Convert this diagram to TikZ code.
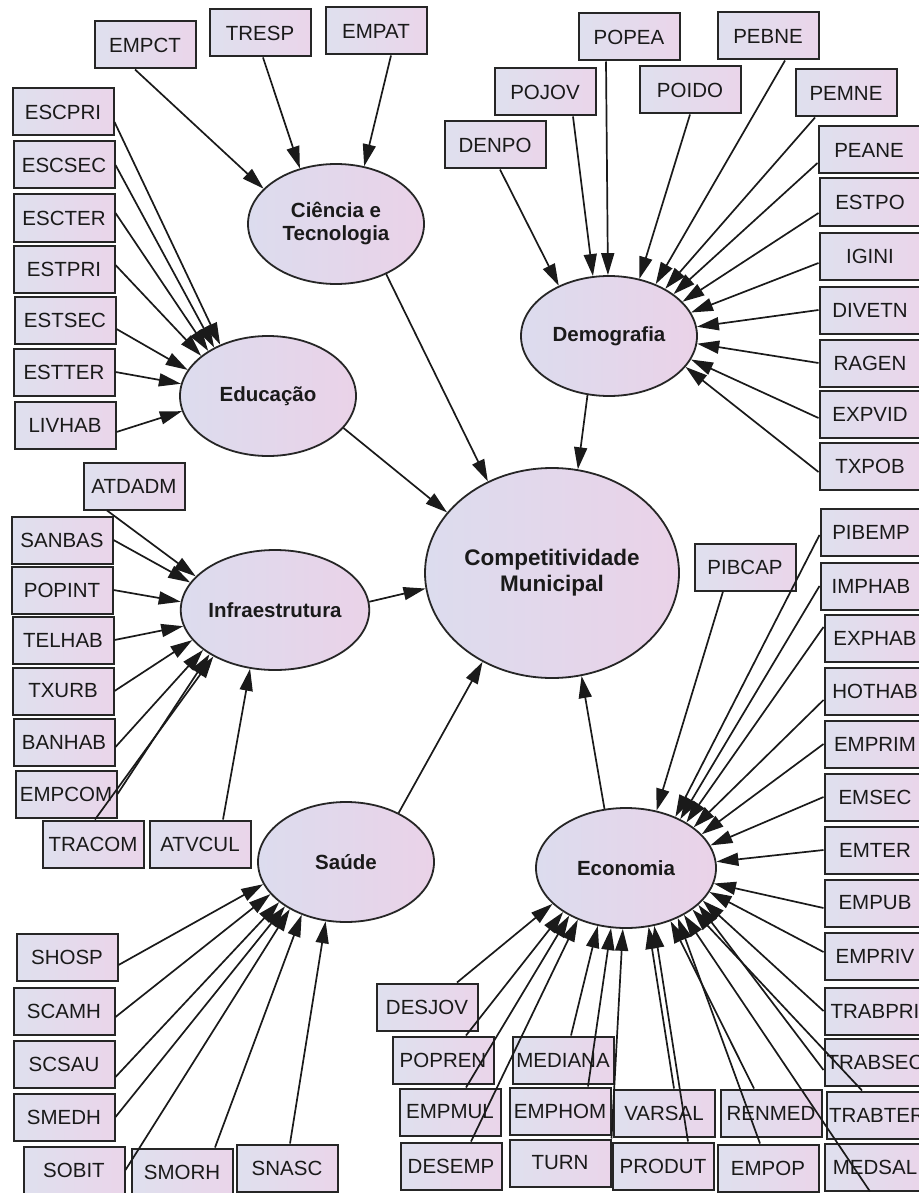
\documentclass[tikz,border=0pt]{standalone}
\usepackage{fontspec}
\setmainfont{Liberation Sans}
\usetikzlibrary{shapes.geometric,arrows.meta}
\definecolor{boxL}{HTML}{DFE0EE}
\definecolor{boxR}{HTML}{EAD5EA}
\definecolor{ellL}{HTML}{DCDCEE}
\definecolor{ellR}{HTML}{EAD2E8}
\definecolor{ink}{HTML}{1A1A1A}
\definecolor{edge}{HTML}{262626}

\begin{document}
\begin{tikzpicture}[x=1pt,y=-1pt,
  box/.style={draw=edge, line width=2pt, left color=boxL, right color=boxR,
    minimum width=101pt, minimum height=47pt, inner sep=0pt, text=ink,
    font=\fontsize{20.5}{24}\selectfont},
  lat/.style={ellipse, draw=edge, line width=1.8pt, left color=ellL, right color=ellR,
    minimum width=176pt, minimum height=120pt, inner sep=0pt, text=ink, align=center,
    font=\bfseries\fontsize{20.5}{23}\selectfont},
  arr/.style={draw=ink, line width=1.7pt, -{Triangle[length=22pt,width=13pt]}}]
\useasboundingbox (0,0) rectangle (918,1193);
\fill[white] (0,0) rectangle (918,1193);

% latent constructs
\node[lat] (cit) at (336,224) {Ciência e\\Tecnologia};
\node[lat] (edu) at (268,396) {Educação};
\node[lat] (dem) at (609,336) {Demografia};
\node[lat, minimum width=254pt, minimum height=210pt,
  font=\bfseries\fontsize{22.5}{26}\selectfont] (comp) at (552,573) {Competitividade\\Municipal};
\node[lat] (infra) at (275,610) {Infraestrutura};
\node[lat] (saude) at (346,862) {Saúde};
\node[lat, minimum width=180pt] (eco) at (626,868) {Economia};

% indicators: science and technology
\node[box] (empct) at (145,45) {EMPCT};
\node[box] (tresp) at (260,33) {TRESP};
\node[box] (empat) at (376,31) {EMPAT};

% indicators: education
\node[box] (escpri) at (63,112) {ESCPRI};
\node[box] (escsec) at (64,165) {ESCSEC};
\node[box] (escter) at (64,218) {ESCTER};
\node[box] (estpri) at (64,269) {ESTPRI};
\node[box] (estsec) at (65,320) {ESTSEC};
\node[box] (estter) at (64,372) {ESTTER};
\node[box] (livhab) at (65,425) {LIVHAB};

% indicators: infrastructure
\node[box] (atdadm) at (134,486) {ATDADM};
\node[box] (sanbas) at (62,540) {SANBAS};
\node[box] (popint) at (62,590) {POPINT};
\node[box] (telhab) at (63,640) {TELHAB};
\node[box] (txurb) at (63,691) {TXURB};
\node[box] (banhab) at (64,742) {BANHAB};
\node[box] (empcom) at (66,794) {EMPCOM};
\node[box] (tracom) at (93,844) {TRACOM};
\node[box] (atvcul) at (200,844) {ATVCUL};

% indicators: health
\node[box] (shosp) at (67,957) {SHOSP};
\node[box] (scamh) at (64,1011) {SCAMH};
\node[box] (scsau) at (64,1064) {SCSAU};
\node[box] (smedh) at (64,1117) {SMEDH};
\node[box] (sobit) at (74,1170) {SOBIT};
\node[box] (smorh) at (182,1172) {SMORH};
\node[box] (snasc) at (287,1168) {SNASC};

% indicators: demography
\node[box] (denpo) at (495,145) {DENPO};
\node[box] (pojov) at (545,92) {POJOV};
\node[box] (popea) at (629,37) {POPEA};
\node[box] (poido) at (690,90) {POIDO};
\node[box] (pebne) at (768,36) {PEBNE};
\node[box] (pemne) at (846,93) {PEMNE};
\node[box] (peane) at (869,150) {PEANE};
\node[box] (estpo) at (870,202) {ESTPO};
\node[box] (igini) at (870,256) {IGINI};
\node[box] (divetn) at (870,310) {DIVETN};
\node[box] (ragen) at (870,363) {RAGEN};
\node[box] (expvid) at (870,414) {EXPVID};
\node[box] (txpob) at (870,466) {TXPOB};

% indicators: economy
\node[box] (pibcap) at (745,567) {PIBCAP};
\node[box] (pibemp) at (871,532) {PIBEMP};
\node[box] (imphab) at (871,586) {IMPHAB};
\node[box] (exphab) at (875,638) {EXPHAB};
\node[box] (hothab) at (875,691) {HOTHAB};
\node[box] (emprim) at (875,744) {EMPRIM};
\node[box] (emsec) at (875,797) {EMSEC};
\node[box] (emter) at (875,850) {EMTER};
\node[box] (empub) at (875,903) {EMPUB};
\node[box] (empriv) at (875,956) {EMPRIV};
\node[box] (trabpri) at (875,1011) {TRABPRI};
\node[box] (trabsec) at (875,1062) {TRABSEC};
\node[box] (trabter) at (877,1115) {TRABTER};
\node[box] (medsal) at (875,1167) {MEDSAL};
\node[box] (renmed) at (771,1113) {RENMED};
\node[box] (empop) at (768,1168) {EMPOP};
\node[box] (varsal) at (664,1113) {VARSAL};
\node[box] (produt) at (663,1166) {PRODUT};
\node[box] (emphom) at (560,1111) {EMPHOM};
\node[box] (turn) at (560,1163) {TURN};
\node[box] (mediana) at (563,1060) {MEDIANA};
\node[box] (popren) at (443,1060) {POPREN};
\node[box] (empmul) at (450,1112) {EMPMUL};
\node[box] (desemp) at (451,1166) {DESEMP};
\node[box] (desjov) at (427,1007) {DESJOV};

% science and technology
\draw[arr] ([xshift=-10pt]empct.south) -- (cit.154);
\draw[arr] ([xshift=3pt]tresp.south) -- (cit.123);
\draw[arr] ([xshift=15pt]empat.south) -- (cit.64);

% education
\draw[arr] ([yshift=-10pt]escpri.east) -- (edu.133);
\draw[arr] (escsec.east) -- (edu.138);
\draw[arr] ([yshift=5pt]escter.east) -- (edu.143);
\draw[arr] ([yshift=4pt]estpri.east) -- (edu.149);
\draw[arr] ([yshift=-9pt]estsec.east) -- (edu.162);
\draw[arr] (estter.east) -- (edu.172);
\draw[arr] ([yshift=-7pt]livhab.east) -- (edu.190);

% infrastructure
\draw[arr] ([xshift=-27pt]atdadm.south) -- (infra.157);
\draw[arr] (sanbas.east) -- (infra.162);
\draw[arr] (popint.east) -- (infra.175);
\draw[arr] (telhab.east) -- (infra.190);
\draw[arr] (txurb.east) -- (infra.200);
\draw[arr] ([yshift=-5pt]banhab.east) -- (infra.209);
\draw[arr] (empcom.east) -- (infra.214);
\draw[arr] ([xshift=2pt]tracom.north) -- (infra.217);
\draw[arr] ([xshift=23pt]atvcul.north) -- (infra.247);

% health
\draw[arr] ([yshift=-8pt]shosp.east) -- (saude.195);
\draw[arr] ([yshift=-6pt]scamh.east) -- (saude.203);
\draw[arr] ([yshift=-13pt]scsau.east) -- (saude.211);
\draw[arr] (smedh.east) -- (saude.216);
\draw[arr] (sobit.east) -- (saude.220);
\draw[arr] ([xshift=33pt]smorh.north) -- (saude.230);
\draw[arr] ([xshift=3pt]snasc.north) -- (saude.251);

% demography
\draw[arr] ([xshift=5pt]denpo.south) -- (dem.135);
\draw[arr] ([xshift=28pt]pojov.south) -- (dem.105);
\draw[arr] ([xshift=-23pt]popea.south) -- (dem.91);
\draw[arr] (poido.south) -- (dem.62);
\draw[arr] ([xshift=17pt]pebne.south) -- (dem.48);
\draw[arr] ([xshift=-31pt]pemne.south) -- (dem.40);
\draw[arr] ([yshift=-13pt]peane.west) -- (dem.33);
\draw[arr] ([yshift=-11pt]estpo.west) -- (dem.25);
\draw[arr] ([yshift=-7pt]igini.west) -- (dem.16);
\draw[arr] (divetn.west) -- (dem.6);
\draw[arr] (ragen.west) -- (dem.-5);
\draw[arr] ([yshift=-4pt]expvid.west) -- (dem.-16);
\draw[arr] ([yshift=-6pt]txpob.west) -- (dem.-22);

% economy
\draw[arr] ([xshift=-22pt]pibcap.south) -- (eco.62);
\draw[arr] ([yshift=-3pt]pibemp.west) -- (eco.46);
\draw[arr] (imphab.west) -- (eco.42);
\draw[arr] ([yshift=11pt]exphab.west) -- (eco.37);
\draw[arr] ([yshift=-9pt]hothab.west) -- (eco.31);
\draw[arr] (emprim.west) -- (eco.24);
\draw[arr] (emsec.west) -- (eco.15);
\draw[arr] (emter.west) -- (eco.4);
\draw[arr] ([yshift=-5pt]empub.west) -- (eco.-10);
\draw[arr] ([yshift=4pt]empriv.west) -- (eco.-16);
\draw[arr] (trabpri.west) -- (eco.-23);
\draw[arr] ([yshift=-8pt]trabsec.west) -- (eco.-27);
\draw[arr] ([xshift=-15pt]trabter.north) -- (eco.-32);
\draw[arr] ([xshift=-5pt]medsal.south) -- (eco.-39);
\draw[arr] ([xshift=-8pt]empop.north) -- (eco.-44);
\draw[arr] ([xshift=-17pt]renmed.north) -- (eco.-50);
\draw[arr] ([xshift=25pt]produt.north) -- (eco.-64);
\draw[arr] ([xshift=10pt]varsal.north) -- (eco.-69);
\draw[arr] (turn.north east) -- (eco.-93);
\draw[arr] ([xshift=28pt]emphom.north) -- (eco.-104);
\draw[arr] ([xshift=8pt]mediana.north) -- (eco.-116);
\draw[arr] ([xshift=20pt]desemp.north) -- (eco.-133);
\draw[arr] ([xshift=16pt]empmul.north) -- (eco.-140);
\draw[arr] ([xshift=23pt]popren.north) -- (eco.-145);
\draw[arr] ([xshift=30pt]desjov.north) -- (eco.-154);

% structural paths
\draw[arr] (cit.-45) -- (comp.125);
\draw[arr] (dem.250) -- (comp.76);
\draw[arr] (edu.-23) -- (comp.150);
\draw[arr] (infra.5) -- (comp.187);
\draw[arr] (saude.43) -- (comp.232);
\draw[arr] (eco.110) -- (comp.286);
\end{tikzpicture}
\end{document}
